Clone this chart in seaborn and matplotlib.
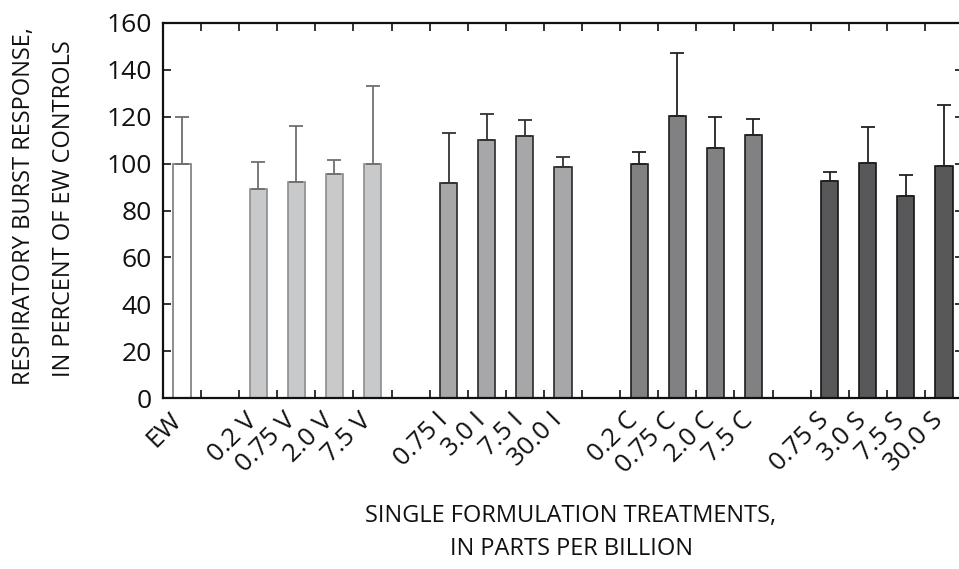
import seaborn as sns
import pandas as pd
import numpy as np
import matplotlib.pyplot as plt

# data
labels = ['EW',
          '0.2 V', '0.75 V', '2.0 V', '7.5 V',
          '0.75 I', '3.0 I', '7.5 I', '30.0 I',
          '0.2 C', '0.75 C', '2.0 C', '7.5 C',
          '0.75 S', '3.0 S', '7.5 S', '30.0 S']
groups = ['EW'] + ['V'] * 4 + ['I'] * 4 + ['C'] * 4 + ['S'] * 4
means = [100,
         89, 92, 95.4, 100,
         91.7, 110.2, 111.8, 98.4,
         99.8, 120.4, 106.5, 112.2,
         92.6, 100.3, 86.3, 98.8]
upper = [120,
         100.5, 116, 101.4, 133,
         113, 121, 118.7, 102.8,
         104.8, 147, 120, 119.2,
         96.4, 115.8, 95.3, 125]
# slot positions (empty slot between groups)
slots = [0, 2, 3, 4, 5, 7, 8, 9, 10, 12, 13, 14, 15, 17, 18, 19, 20]

fill = {'EW': '#ffffff', 'V': '#c8c9cb', 'I': '#a6a7aa', 'C': '#808184', 'S': '#58585a'}
edge = {'EW': '#7a7a7a', 'V': '#8c8c8c', 'I': '#2a2a2a', 'C': '#1e1e1e', 'S': '#151515'}
errc = {'EW': '#6d6d6d', 'V': '#707070', 'I': '#333333', 'C': '#222222', 'S': '#222222'}

df = pd.DataFrame({'pos': slots, 'value': means, 'group': groups})

sns.set_style('white')
plt.rcParams['font.family'] = ['Open Sans', 'DejaVu Sans']

fig = plt.figure(figsize=(9.59, 5.69), dpi=100)
ax = fig.add_axes([163 / 959, 1 - 398 / 569, 800 / 959, 375 / 569])

sns.barplot(data=df, x='pos', y='value', hue='group', native_scale=True,
            dodge=False, width=0.45, palette=fill, legend=False, ax=ax,
            linewidth=1.2, errorbar=None)

for p in ax.patches:
    cx = p.get_x() + p.get_width() / 2
    i = int(np.argmin(np.abs(np.array(slots) - cx)))
    p.set_edgecolor(edge[groups[i]])

for x, m, u, g in zip(slots, means, upper, groups):
    ax.errorbar([x], [m], yerr=[[0], [u - m]], fmt='none', ecolor=errc[g],
                elinewidth=1.3, capsize=5, capthick=1.3, zorder=1)

ax.set_xlim(-0.5, 20.5)
ax.set_ylim(0, 160)
ax.set_yticks(np.arange(0, 161, 20))
ax.set_xticks(slots)
ax.set_xticklabels(labels)
ax.set_xticks(np.arange(0.5, 20.5, 1), minor=True)

ax.tick_params(axis='y', direction='in', length=6, width=1.2, labelsize=19,
               pad=8, left=True, right=True, colors='#111111')
ax.tick_params(axis='x', which='major', length=0, labelsize=18.5, pad=17, colors='#111111')
ax.tick_params(axis='x', which='minor', direction='in', length=6, width=1.2,
               bottom=True, top=True, colors='#111111')
plt.setp(ax.get_xticklabels(), rotation=45, ha='right', va='baseline',
         rotation_mode='anchor')

for s in ax.spines.values():
    s.set_linewidth(1.6)
    s.set_color('#111111')

ax.set_xlabel('')
ax.set_ylabel('')
fig.text(24 / 959, 1 - 206 / 569, 'RESPIRATORY BURST RESPONSE,', rotation=90,
         ha='center', va='center', fontsize=17, color='#111111')
fig.text(64 / 959, 1 - 209 / 569, 'IN PERCENT OF EW CONTROLS', rotation=90,
         ha='center', va='center', fontsize=17, color='#111111')
fig.text(571 / 959, 1 - 516 / 569, 'SINGLE FORMULATION TREATMENTS,',
         ha='center', va='center', fontsize=17, color='#111111')
fig.text(571 / 959, 1 - 549 / 569, 'IN PARTS PER BILLION',
         ha='center', va='center', fontsize=17, color='#111111')

fig.savefig('out.png', dpi=100)
